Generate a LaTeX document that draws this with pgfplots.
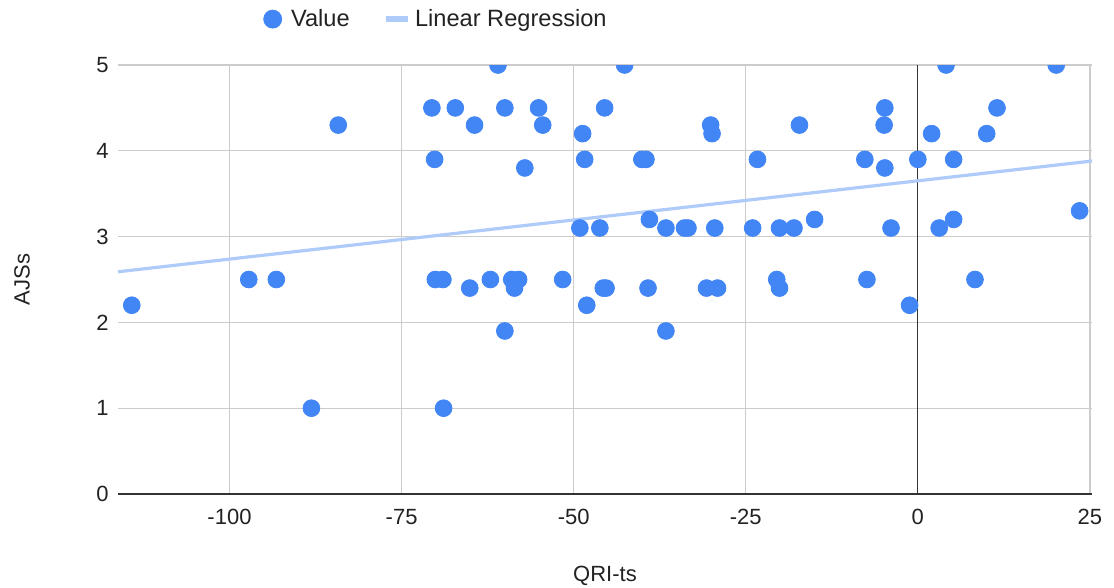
\documentclass[border=0pt]{standalone}
\usepackage{pgfplots}
\pgfplotsset{compat=1.18}
\usepackage{pgfplotstable}
\usepackage{fontspec}
\setmainfont{Liberation Sans}
\definecolor{gblue}{HTML}{4285F4}
\definecolor{trend}{HTML}{AFCBFA}
\definecolor{gridc}{HTML}{CCCCCC}
\definecolor{axisc}{HTML}{333333}
\definecolor{textc}{HTML}{222222}

\pgfplotstableread{
x y
-114.2 2.2
-97.2 2.5
-93.2 2.5
-88.1 1.0
-84.2 4.3
-70.6 4.5
-70.2 3.9
-70.1 2.5
-69.0 2.5
-68.9 1.0
-67.2 4.5
-65.1 2.4
-64.4 4.3
-62.1 2.5
-61.0 5.0
-60.0 4.5
-60.0 1.9
-59.0 2.5
-58.6 2.4
-58.0 2.5
-57.1 3.8
-55.1 4.5
-54.5 4.3
-51.6 2.5
-49.1 3.1
-48.7 4.2
-48.4 3.9
-48.1 2.2
-46.2 3.1
-45.7 2.4
-45.5 4.5
-45.3 2.4
-42.6 5.0
-40.1 3.9
-39.5 3.9
-39.2 2.4
-39.0 3.2
-36.6 3.1
-36.6 1.9
-33.9 3.1
-33.4 3.1
-30.1 4.3
-29.9 4.2
-30.7 2.4
-29.5 3.1
-29.1 2.4
-24.0 3.1
-23.3 3.9
-20.5 2.5
-20.1 2.4
-20.1 3.1
-18.0 3.1
-17.2 4.3
-15.0 3.2
-7.7 3.9
-7.4 2.5
-4.9 4.3
-4.8 4.5
-4.8 3.8
-3.9 3.1
-1.2 2.2
0.0 3.9
2.0 4.2
3.1 3.1
4.1 5.0
5.2 3.9
5.2 3.2
8.3 2.5
10.0 4.2
11.5 4.5
20.1 5.0
23.5 3.3
}\pointdata

\begin{document}
\begin{tikzpicture}
\useasboundingbox (-59pt,-47pt) rectangle (498pt,247pt);
\begin{axis}[
  scale only axis, width=487pt, height=214.5pt,
  xmin=-116.2, xmax=25.3, ymin=0, ymax=5,
  xtick={-100,-75,-50,-25,0,25}, xticklabels={-100,-75,-50,-25,0,25},
  ytick={0,1,2,3,4,5}, yticklabels={0,1,2,3,4,5},
  grid=major, grid style={gridc, line width=0.6pt},
  major tick length=0pt,
  axis line style={draw=none},
  tick label style={font=\fontsize{11}{13}\selectfont, text=textc},
  xticklabel style={anchor=north, inner sep=0pt, yshift=-7.5pt},
  yticklabel style={anchor=east, inner sep=0pt, xshift=-4.5pt},
  xlabel={QRI-ts}, ylabel={AJSs},
  label style={font=\fontsize{11}{13}\selectfont, text=textc},
  xlabel style={at={(axis description cs:0.5,-0.192)}, anchor=center},
  ylabel style={at={(axis description cs:-0.0986,0.5)}, anchor=center},
  extra x ticks={0}, extra x tick labels={}, extra x tick style={grid style={axisc, line width=0.6pt}},
  extra y ticks={0}, extra y tick labels={}, extra y tick style={grid style={axisc, line width=1pt}},
  clip marker paths=true,
  legend columns=2,
  legend style={draw=none, fill=none, at={(axis description cs:0.3275,1.107)}, anchor=center,
    font=\fontsize{11.8}{14}\selectfont, text=textc,
    /tikz/every even column/.append style={column sep=14.5pt}},
]
\addplot[trend, line width=1.6pt, forget plot] coordinates {(-116.2,2.59) (25.3,3.881)};
\addplot[only marks, mark=*, mark size=4.2pt, color=gblue, mark options={draw=gblue, fill=gblue},
  legend image code/.code={\fill[gblue] (0pt,0pt) circle (4.5pt); \path (7pt,0pt);}] table[x=x,y=y] {\pointdata};
\addlegendentry{Value}
\addlegendimage{legend image code/.code={\draw[trend, line width=3pt] (0pt,0pt) -- (11pt,0pt); \path (12.5pt,0pt);}}
\addlegendentry{Linear Regression}
\end{axis}
\end{tikzpicture}
\end{document}
